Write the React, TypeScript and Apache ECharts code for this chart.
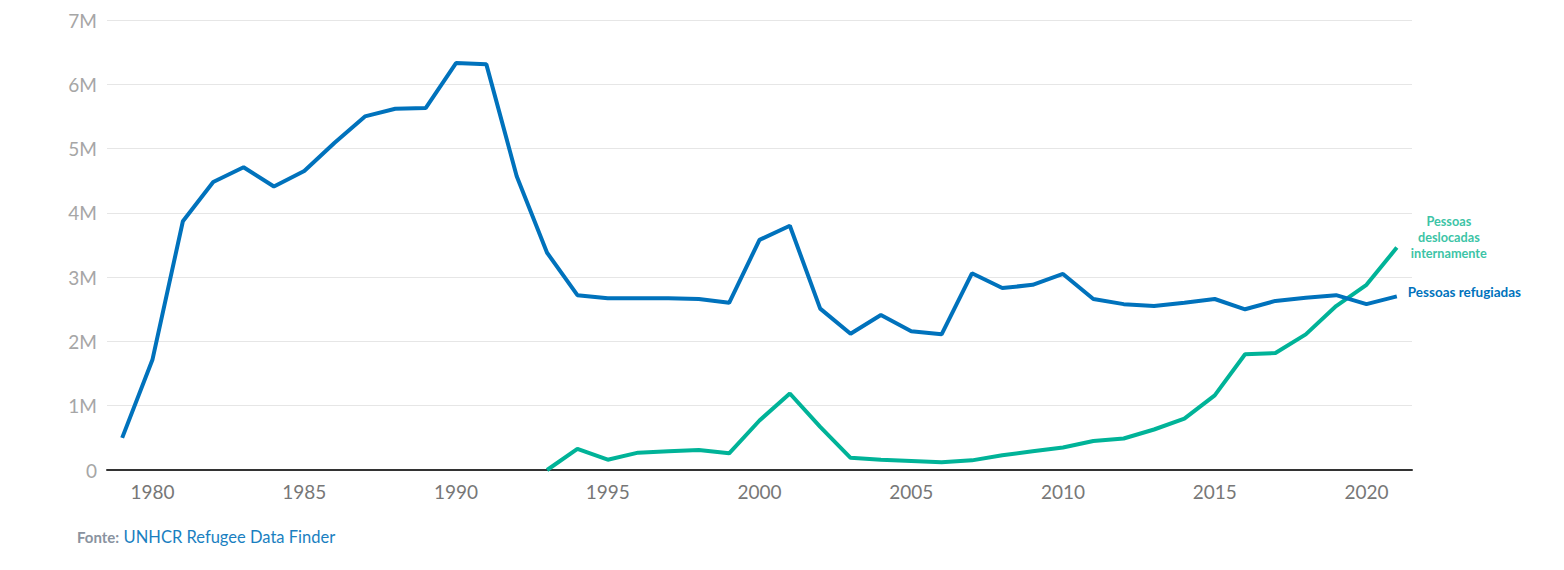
import React, { useEffect, useRef } from "react";
import * as echarts from "echarts";

const years: string[] = [];
for (let y = 1979; y <= 2021; y++) years.push(String(y));

// values in millions
const refugees = [
  0.5, 1.72, 3.87, 4.48, 4.71, 4.41, 4.65, 5.09, 5.5, 5.62,
  5.63, 6.33, 6.31, 4.57, 3.38, 2.72, 2.67, 2.67, 2.67, 2.66,
  2.6, 3.58, 3.8, 2.51, 2.12, 2.41, 2.16, 2.11, 3.06, 2.83,
  2.88, 3.05, 2.66, 2.58, 2.55, 2.6, 2.66, 2.5, 2.63, 2.68,
  2.72, 2.58, 2.7,
];

const idps: (number | null)[] = [
  null, null, null, null, null, null, null, null, null, null,
  null, null, null, null, 0, 0.33, 0.16, 0.27, 0.29, 0.31,
  0.26, 0.77, 1.19, 0.67, 0.19, 0.16, 0.14, 0.12, 0.15, 0.23,
  0.29, 0.35, 0.45, 0.49, 0.63, 0.8, 1.16, 1.8, 1.82, 2.11,
  2.55, 2.88, 3.46,
];

const refugeeLabel = "Pessoas refugiadas";
const idpLabel = "Pessoas\ndeslocadas\ninternamente";
const sourceLabel = "Fonte:";
const sourceName = "UNHCR Refugee Data Finder";

const BLUE = "#0072bc";
const GREEN = "#00b398";
const FONT = "Lato, 'Noto Sans', sans-serif";

export default function App() {
  const ref = useRef<HTMLDivElement>(null);
  useEffect(() => {
    if (!ref.current) return;
    const chart = echarts.init(ref.current, undefined, { renderer: "svg" });
    chart.setOption({
      animation: false,
      textStyle: { fontFamily: FONT },
      grid: { left: 99, right: 144, top: 12, bottom: 92, containLabel: false },
      title: {
        left: 64,
        top: 515,
        text: `{a|${sourceLabel}} {b|${sourceName}}`,
        textStyle: {
          rich: {
            a: { fontFamily: FONT, fontSize: 15, fontWeight: "bold", color: "#8a93a0" },
            b: { fontFamily: FONT, fontSize: 16.5, fontWeight: "normal", color: "#1a7fc1" },
          },
        },
      },
      xAxis: {
        type: "category",
        data: years,
        boundaryGap: true,
        axisLine: { show: true, lineStyle: { color: "#333333", width: 2 } },
        axisTick: { show: false },
        axisLabel: {
          interval: (_i: number, v: string) => Number(v) % 5 === 0,
          color: "#777777",
          fontSize: 19,
          fontFamily: FONT,
          margin: 12,
        },
        splitLine: { show: false },
      },
      yAxis: {
        type: "value",
        min: 0,
        max: 7,
        interval: 1,
        axisLine: { show: false },
        axisTick: { show: false },
        axisLabel: {
          formatter: (v: number) => (v === 0 ? "0" : `${v}M`),
          color: "#a6a6a6",
          fontSize: 19,
          fontFamily: FONT,
          margin: 10,
        },
        splitLine: { lineStyle: { color: "#e6e6e6", width: 1 } },
      },
      series: [
        {
          type: "line",
          data: refugees,
          symbol: "none",
          lineStyle: { color: BLUE, width: 4 },
          itemStyle: { color: BLUE },
          z: 3,
          endLabel: {
            show: true,
            formatter: refugeeLabel,
            color: BLUE,
            fontSize: 13.5,
            fontWeight: "bold",
            fontFamily: FONT,
            distance: 11,
            offset: [0, -4],
          },
        },
        {
          type: "line",
          data: idps,
          symbol: "none",
          lineStyle: { color: GREEN, width: 4 },
          itemStyle: { color: GREEN },
          z: 2,
          endLabel: {
            show: true,
            formatter: idpLabel,
            color: "#3cc4a6",
            fontSize: 12.7,
            fontWeight: "bold",
            fontFamily: FONT,
            align: "center",
            lineHeight: 16,
            distance: 0,
            offset: [52, -11],
          },
        },
      ],
    });
    return () => chart.dispose();
  }, []);
  return <div ref={ref} style={{ width: 1548, height: 554 }} />;
}
